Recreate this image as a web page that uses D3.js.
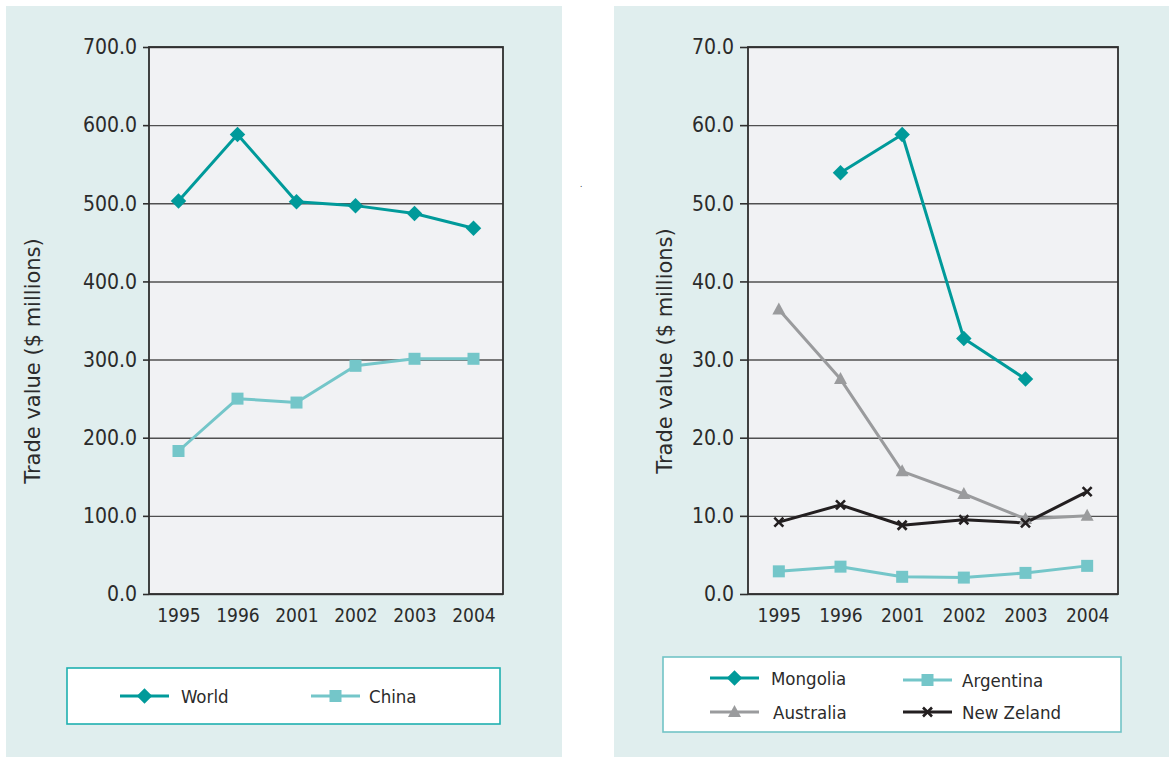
<!DOCTYPE html>
<html>
<head>
<meta charset="utf-8">
<script src="https://cdn.jsdelivr.net/npm/d3@7"></script>
<style>
  html, body { margin: 0; padding: 0; background: #ffffff; }
  svg { display: block; }
  text { font-family: "DejaVu Sans Condensed", "DejaVu Sans", Verdana, sans-serif; font-stretch: condensed; fill: #2b2b2b; }
  text.axis-title { font-family: "DejaVu Sans", Verdana, sans-serif; font-stretch: normal; }
</style>
</head>
<body>
<svg id="chart" width="1169" height="757"></svg>
<script>
// ---- data ----
const years = ["1995", "1996", "2001", "2002", "2003", "2004"];

// Left panel: totals
const worldValues = [503, 588, 502, 497, 487, 468];
const chinaValues = [183, 250, 245, 292, 301, 301];
const leftTicks = [0, 100, 200, 300, 400, 500, 600, 700];

// Right panel: partner countries
const mongoliaValues = [null, 53.9, 58.8, 32.7, 27.5, null];
const australiaValues = [36.4, 27.5, 15.7, 12.8, 9.6, 10.0];
const argentinaValues = [2.9, 3.5, 2.2, 2.1, 2.7, 3.6];
const newZelandValues = [9.2, 11.4, 8.8, 9.5, 9.1, 13.1];
const rightTicks = [0, 10, 20, 30, 40, 50, 60, 70];

const axisTitle = "Trade value ($ millions)";

// ---- styles ----
const TEAL = "#009a9a";
const LIGHT = "#74c6c9";
const GREY = "#9a9b9d";
const DARK = "#231f20";
const PANEL = "#e0eeee";
const PLOT = "#f1f2f4";

const svg = d3.select("#chart");
const fmt = d3.format(".1f");

// marker drawing helper
function marker(g, type, x, y, color) {
  if (type === "diamond") {
    g.append("path").attr("d", d3.symbol(d3.symbolSquare, 120)())
      .attr("transform", `translate(${x},${y}) rotate(45)`).attr("fill", color);
  } else if (type === "square") {
    g.append("rect").attr("x", x - 6).attr("y", y - 6).attr("width", 12).attr("height", 12).attr("fill", color);
  } else if (type === "triangle") {
    g.append("path").attr("d", `M${x},${y - 7}L${x + 6.5},${y + 5}L${x - 6.5},${y + 5}Z`).attr("fill", color);
  } else if (type === "cross") {
    g.append("path").attr("d", `M${x - 4.5},${y - 4.5}L${x + 4.5},${y + 4.5}M${x - 4.5},${y + 4.5}L${x + 4.5},${y - 4.5}`)
      .attr("stroke", color).attr("stroke-width", 2.6).attr("fill", "none");
  }
}

function panel(cfg) {
  const g = svg.append("g");
  // panel background
  g.append("rect").attr("x", cfg.px).attr("y", 6).attr("width", cfg.pw).attr("height", 757 - 6).attr("fill", PANEL);

  const x = d3.scalePoint().domain(years).range([cfg.x0, cfg.x1]).padding(0.5);
  const y = d3.scaleLinear().domain([0, cfg.max]).range([cfg.y1, cfg.y0]);

  // plot area
  g.append("rect").attr("x", cfg.x0).attr("y", cfg.y0).attr("width", cfg.x1 - cfg.x0).attr("height", cfg.y1 - cfg.y0).attr("fill", PLOT);

  // gridlines
  const grid = g.append("g").attr("transform", `translate(${cfg.x0},0)`)
    .call(d3.axisLeft(y).tickValues(cfg.ticks).tickSize(-(cfg.x1 - cfg.x0)).tickFormat(""));
  grid.select(".domain").remove();
  grid.selectAll("line").attr("stroke", "#505050").attr("stroke-width", 1.4);

  // frame
  g.append("rect").attr("x", cfg.x0).attr("y", cfg.y0).attr("width", cfg.x1 - cfg.x0).attr("height", cfg.y1 - cfg.y0)
    .attr("fill", "none").attr("stroke", "#2e2e2e").attr("stroke-width", 1.8);

  // y axis
  const ya = g.append("g").attr("transform", `translate(${cfg.x0},0)`)
    .call(d3.axisLeft(y).tickValues(cfg.ticks).tickSize(cfg.tick).tickPadding(6).tickFormat(fmt));
  ya.select(".domain").remove();
  ya.selectAll("line").attr("stroke", "#2e2e2e").attr("stroke-width", 1.6);
  ya.selectAll("text").attr("font-size", 21).attr("fill", "#2b2b2b")
    .style("font-family", null);

  // x axis labels
  const xa = g.append("g").attr("transform", `translate(0,${cfg.y1})`)
    .call(d3.axisBottom(x).tickSize(0).tickPadding(15));
  xa.select(".domain").remove();
  xa.selectAll("text").attr("font-size", 19).attr("fill", "#2b2b2b");

  // axis title
  g.append("text").attr("class", "axis-title")
    .attr("transform", `translate(${cfg.tx},${cfg.ty}) rotate(-90)`)
    .attr("text-anchor", "middle").attr("dominant-baseline", "central")
    .attr("font-size", 21).text(axisTitle);

  // series
  const line = d3.line().defined(d => d != null).x((d, i) => x(years[i])).y(d => y(d));
  cfg.series.forEach(s => {
    g.append("path").datum(s.values).attr("d", line)
      .attr("fill", "none").attr("stroke", s.color).attr("stroke-width", 3).attr("stroke-linejoin", "round");
  });
  cfg.series.forEach(s => {
    s.values.forEach((v, i) => { if (v != null) marker(g, s.marker, x(years[i]), y(v), s.color); });
  });

  // legend
  const lg = g.append("g");
  lg.append("rect").attr("x", cfg.lx).attr("y", cfg.ly).attr("width", cfg.lw).attr("height", cfg.lh)
    .attr("fill", "#ffffff").attr("stroke", cfg.lstroke).attr("stroke-width", 1.6);
  cfg.series.forEach(s => {
    const [lx, ly, tx] = s.legend;
    lg.append("line").attr("x1", lx).attr("x2", lx + 49).attr("y1", ly).attr("y2", ly)
      .attr("stroke", s.color).attr("stroke-width", 3);
    marker(lg, s.marker, lx + 24.5, ly, s.color);
    lg.append("text").attr("x", tx).attr("y", ly).attr("dominant-baseline", "central")
      .attr("font-size", 18.5).text(s.name);
  });
}

panel({
  px: 6, pw: 556, x0: 149, x1: 503, y0: 47, y1: 594, max: 700, ticks: leftTicks, tick: 6,
  tx: 33, ty: 361,
  lx: 67, ly: 668, lw: 433, lh: 56, lstroke: "#1fb0b0",
  series: [
    { name: "World", values: worldValues, color: TEAL, marker: "diamond", legend: [120, 696, 181] },
    { name: "China", values: chinaValues, color: LIGHT, marker: "square", legend: [311, 696, 369] }
  ]
});

panel({
  px: 614, pw: 555, x0: 748, x1: 1118, y0: 47, y1: 594, max: 70, ticks: rightTicks, tick: 8,
  tx: 665, ty: 351,
  lx: 663, ly: 657, lw: 458, lh: 75, lstroke: "#72c4c6",
  series: [
    { name: "Australia", values: australiaValues, color: GREY, marker: "triangle", legend: [710, 712, 773] },
    { name: "Argentina", values: argentinaValues, color: LIGHT, marker: "square", legend: [903, 680, 962] },
    { name: "New Zeland", values: newZelandValues, color: DARK, marker: "cross", legend: [903, 712, 962] },
    { name: "Mongolia", values: mongoliaValues, color: TEAL, marker: "diamond", legend: [710, 678, 771] }
  ]
});

// small stray mark between the panels
svg.append("text").attr("x", 580).attr("y", 187).attr("font-size", 8).attr("fill", "#777").text(".");
</script>
</body>
</html>
